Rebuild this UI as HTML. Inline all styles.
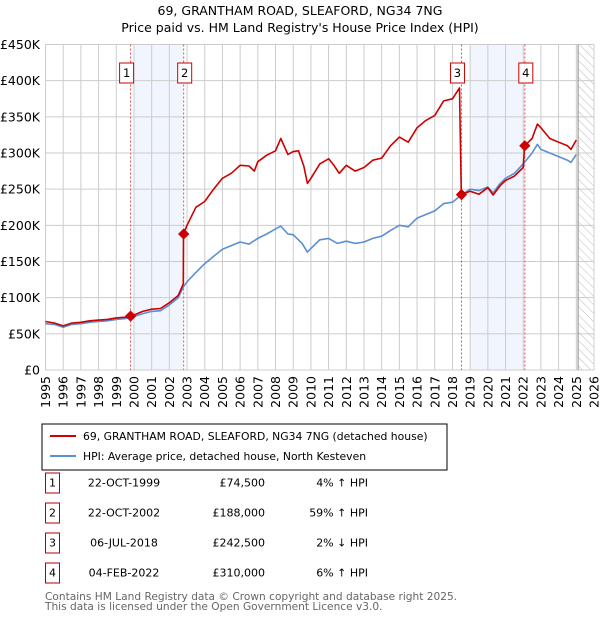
<!DOCTYPE html>
<html><head><meta charset="utf-8"><style>
body{margin:0;background:#fff;font-family:"Liberation Sans","DejaVu Sans",sans-serif;}
svg text{font-family:"DejaVu Sans","Liberation Sans",sans-serif;}
</style></head><body>
<svg id="c" width="600" height="620" xmlns="http://www.w3.org/2000/svg">
<defs><pattern id="hatch" width="6" height="6" patternUnits="userSpaceOnUse" patternTransform="rotate(-45)"><line x1="0" y1="0" x2="0" y2="6" stroke="#bbb" stroke-width="1"/></pattern></defs>
<text x="300" y="15" text-anchor="middle" font-size="12.5">69, GRANTHAM ROAD, SLEAFORD, NG34 7NG</text>
<text x="300" y="32" text-anchor="middle" font-size="12.5">Price paid vs. HM Land Registry's House Price Index (HPI)</text>
<g id="plot"></g>
<rect x="42" y="424" width="405" height="46" fill="#fff" stroke="#000" stroke-width="1"/>
<line x1="50" y1="436" x2="76" y2="436" stroke="#cc0000" stroke-width="2"/>
<text x="83" y="440" font-size="10.8">69, GRANTHAM ROAD, SLEAFORD, NG34 7NG (detached house)</text>
<line x1="50" y1="456" x2="76" y2="456" stroke="#5b8fd4" stroke-width="2"/>
<text x="83" y="460" font-size="10.8">HPI: Average price, detached house, North Kesteven</text>
<g id="tbl" font-size="11"></g>
<text x="45" y="600" font-size="10.6" fill="#666">Contains HM Land Registry data © Crown copyright and database right 2025.</text>
<text x="45" y="610" font-size="10.6" fill="#666">This data is licensed under the Open Government Licence v3.0.</text>
</svg>
<script>
const hpiYears=[1995,1995.5,1996,1996.5,1997,1997.5,1998,1998.5,1999,1999.5,1999.8,2000,2000.5,2001,2001.5,2002,2002.5,2002.8,2003,2003.5,2004,2004.5,2005,2005.5,2006,2006.5,2007,2007.5,2008,2008.3,2008.7,2009,2009.5,2009.8,2010,2010.5,2011,2011.5,2012,2012.5,2013,2013.5,2014,2014.5,2015,2015.5,2016,2016.5,2017,2017.5,2018,2018.5,2019,2019.5,2020,2020.3,2020.7,2021,2021.5,2022,2022.5,2022.8,2023,2023.5,2024,2024.5,2024.7,2025];
const hpiValues=[64,63,59,63,64,66,67,68,70,71,72,74,78,81,82,90,100,115,122,135,147,157,167,172,177,174,182,188,195,199,188,187,175,163,168,180,182,175,178,175,177,182,185,193,200,198,210,215,220,230,232,242,250,248,253,245,258,265,272,285,300,312,305,300,295,290,287,298];
const redYears=[1995,1995.5,1996,1996.5,1997,1997.5,1998,1998.5,1999,1999.5,1999.8,2000,2000.5,2001,2001.5,2002,2002.5,2002.79,2002.8,2003,2003.5,2004,2004.5,2005,2005.5,2006,2006.5,2006.8,2007,2007.5,2008,2008.3,2008.7,2009,2009.3,2009.6,2009.8,2010,2010.5,2011,2011.3,2011.6,2012,2012.5,2013,2013.5,2014,2014.5,2015,2015.5,2016,2016.5,2017,2017.5,2018,2018.4,2018.5,2019,2019.5,2020,2020.3,2020.7,2021,2021.5,2022,2022.08,2022.5,2022.8,2023,2023.5,2024,2024.5,2024.7,2025];
const redValues=[67,65,61,65,66,68,69,70,72,73,74.5,76,81,84,85,93,103,119,188,200,225,233,250,265,272,283,282,275,288,297,303,320,298,302,303,282,258,265,285,292,283,272,283,275,280,290,293,310,322,315,335,345,352,372,375,390,242.5,247,243,252,242,255,262,268,280,310,320,340,335,320,315,310,305,318];
const saleYears=[1999.81,2002.81,2018.51,2022.09];
const saleValues=[74.5,188,242.5,310];
const saleLabels=["1","2","3","4"];
const yTicks=[0,50,100,150,200,250,300,350,400,450];
const yTickLabels=["£0","£50K","£100K","£150K","£200K","£250K","£300K","£350K","£400K","£450K"];
const xTicks=[1995,1996,1997,1998,1999,2000,2001,2002,2003,2004,2005,2006,2007,2008,2009,2010,2011,2012,2013,2014,2015,2016,2017,2018,2019,2020,2021,2022,2023,2024,2025,2026];
const tblDates=["22-OCT-1999","22-OCT-2002","06-JUL-2018","04-FEB-2022"];
const tblPrices=["£74,500","£188,000","£242,500","£310,000"];
const tblHpi=["4% ↑ HPI","59% ↑ HPI","2% ↓ HPI","6% ↑ HPI"];

const NS="http://www.w3.org/2000/svg";
const X0=45.5,X1=594,Y0=370,Y1=44.5;
const xs=y=>X0+(y-1995)/(2026-1995)*(X1-X0);
const ys=v=>Y0-v/450*(Y0-Y1);
const plot=document.getElementById('plot');
function mk(tag,attrs,parent){const e=document.createElementNS(NS,tag);for(const k in attrs)e.setAttribute(k,attrs[k]);(parent||plot).appendChild(e);return e;}
let e;
e=mk('rect',{x:xs(2000),y:Y1,width:xs(2002.81)-xs(2000),height:Y0-Y1,fill:'#eef3fc',opacity:0.8});


e=mk('rect',{x:xs(2019),y:Y1,width:xs(2022.09)-xs(2019),height:Y0-Y1,fill:'#eef3fc',opacity:0.8});


e=mk('rect',{x:xs(2025.1),y:Y1,width:X1-xs(2025.1),height:Y0-Y1,fill:'url(#hatch)'});


yTicks.forEach((t,i)=>{
 e=mk('line',{x1:X0,x2:X1,y1:ys(t),y2:ys(t),stroke:'#ccc','stroke-width':1});
 
 
 e=mk('text',{x:40,y:ys(t)+4.5,'text-anchor':'end','font-size':12.5});
 e.textContent=yTickLabels[i];
 
 
});
xTicks.forEach(t=>{
 e=mk('line',{x1:xs(t),x2:xs(t),y1:Y1,y2:Y0,stroke:'#ccc','stroke-width':1});
 
 
 e=mk('text',{x:0,y:0,'text-anchor':'end','font-size':12.5,transform:`translate(${xs(t)+4.5},376) rotate(-90)`});
 e.textContent=t;
 
 
});
e=mk('line',{x1:xs(2025.1),x2:xs(2025.1),y1:Y1,y2:Y0,stroke:'#888','stroke-width':1});


saleYears.forEach((s,i)=>{
 e=mk('line',{x1:xs(s),x2:xs(s),y1:Y1,y2:Y0,stroke:'#e05050','stroke-width':1,'stroke-dasharray':'2,2'});
 
 
});
function path(xv,yv,col,name){
 const d=xv.map((x,i)=>(i?'L':'M')+xs(x).toFixed(1)+','+ys(yv[i]).toFixed(1)).join('');
 e=mk('path',{d:d,fill:'none',stroke:col,'stroke-width':1.6,'stroke-linejoin':'round'});
 
 
}
path(hpiYears,hpiValues,'#5b8fd4','hpi-line');
path(redYears,redValues,'#cc0000','property-price-line');
saleYears.forEach((s,i)=>{
 e=mk('rect',{x:xs(s)-4,y:ys(saleValues[i])-4,width:8,height:8,fill:'#cc0000',transform:`rotate(45 ${xs(s)} ${ys(saleValues[i])})`});
 
 
 e=mk('rect',{x:xs(s)-(i==0||i==2?11:6),y:63,width:14,height:20,fill:'#fff',stroke:'#cc0000','stroke-width':1});
 
 
 e=mk('text',{x:xs(s)-(i==0||i==2?4:-1),y:77,'text-anchor':'middle','font-size':11.5});
 e.textContent=saleLabels[i];
 
 
});
const tbl=document.getElementById('tbl');
const rowY=[483,513,543,573];
rowY.forEach((y,i)=>{
 e=mk('rect',{x:45.5,y:y-10,width:14,height:20,fill:'#fff',stroke:'#b00000','stroke-width':1},tbl);
 
 
 e=mk('text',{x:52.5,y:y+3.5,'text-anchor':'middle'},tbl);e.textContent=saleLabels[i];
 
 
 e=mk('text',{x:124,y:y+3.5,'text-anchor':'middle'},tbl);e.textContent=tblDates[i];
 
 
 e=mk('text',{x:265,y:y+3.5,'text-anchor':'end'},tbl);e.textContent=tblPrices[i];
 
 
 e=mk('text',{x:368,y:y+3.5,'text-anchor':'end'},tbl);e.textContent=tblHpi[i];
 
 
});
</script>
</body></html>
